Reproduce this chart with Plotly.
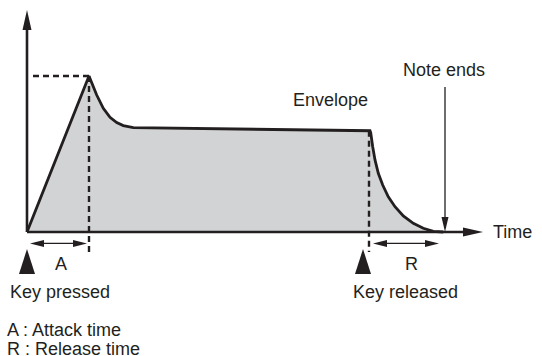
import plotly.graph_objects as go

# ADSR-style envelope: time in arbitrary units, level in % of peak
attack_t = [0, 6.2]
attack_level = [0, 100]
decay_t = [6.2, 6.97, 7.63, 8.3, 8.97, 9.63, 10.3, 10.63]
decay_level = [100, 87.8, 79.3, 73.5, 70.1, 68.2, 67.1, 66.9]
sustain_t = [10.63, 34.3]
sustain_level = [66.9, 64.9]
release_t = [34.3, 34.37, 34.57, 34.8, 35.13, 35.57, 36.13, 36.8, 37.63, 38.63, 39.63, 40.63, 41.63]
release_level = [64.9, 63.7, 54.7, 46.2, 37.6, 30.1, 22.6, 16.2, 10.3, 5.6, 2.4, 0.4, 0]

key_marker_t = [0, 33.6]
key_labels = ["Key pressed", "Key released"]
attack_span = [0.3, 6.0]
release_span = [34.6, 41.2]
note_end_t = 41.8
time_axis_end = 45.6
level_axis_end = 142.3

INK = "#231f20"
FILL = "#d1d3d4"
FONT = dict(family="Liberation Sans, Arial, sans-serif", size=18, color=INK)
W, H = 542, 356
X_RANGE = [-2.7, 51.5]
Y_RANGE = [-79.49, 148.72]
PX_T = W / (X_RANGE[1] - X_RANGE[0])
PX_L = H / (Y_RANGE[1] - Y_RANGE[0])

env_t = attack_t + decay_t[1:] + sustain_t[1:] + release_t[1:]
env_level = attack_level + decay_level[1:] + sustain_level[1:] + release_level[1:]

fig = go.Figure()

fig.add_trace(go.Scatter(x=env_t, y=env_level, mode="lines", fill="tozeroy",
                         fillcolor=FILL, line=dict(color=INK, width=2.8)))

# dashed guides
dash = dict(color=INK, width=2.4, dash="6px,4px")
guide_bottom = -20 / PX_L
fig.add_trace(go.Scatter(x=[6 / PX_T, attack_t[1]], y=[attack_level[1]] * 2,
                         mode="lines", line=dash))
fig.add_trace(go.Scatter(x=[attack_t[1]] * 2, y=[attack_level[1], guide_bottom],
                         mode="lines", line=dash))
fig.add_trace(go.Scatter(x=[sustain_t[1] - 0.1] * 2, y=[sustain_level[1], guide_bottom],
                         mode="lines", line=dash))

shapes = []


def head(t, lv, direction, length, width):
    # arrow head as a pixel-sized path anchored at the tip
    hw = width / 2
    pts = {
        "up": [(0, 0), (-hw, -length), (hw, -length)],
        "down": [(0, 0), (-hw, length), (hw, length)],
        "right": [(0, 0), (-length, hw), (-length, -hw)],
        "left": [(0, 0), (length, hw), (length, -hw)],
    }[direction]
    path = "M" + " L".join(f"{x},{y}" for x, y in pts) + " Z"
    shapes.append(dict(type="path", xref="x", yref="y", xsizemode="pixel",
                       ysizemode="pixel", xanchor=t, yanchor=lv, path=path,
                       fillcolor=INK, line=dict(width=0), layer="above"))


# axes
axis = dict(color=INK, width=2.6)
fig.add_trace(go.Scatter(x=[0, time_axis_end - 10 / PX_T], y=[0, 0], mode="lines", line=axis))
fig.add_trace(go.Scatter(x=[0, 0], y=[0, level_axis_end - 10 / PX_L], mode="lines", line=axis))
head(time_axis_end, 0, "right", 20, 9)
head(0, level_axis_end, "up", 20, 9)

# span arrows for attack and release
thin = dict(color=INK, width=1.3)
span_y = -7.3
for a, b in (attack_span, release_span):
    fig.add_trace(go.Scatter(x=[a + 5 / PX_T, b - 5 / PX_T], y=[span_y] * 2, mode="lines", line=thin))
    head(a, span_y, "left", 14, 7)
    head(b, span_y, "right", 14, 7)

# note ends arrow
fig.add_trace(go.Scatter(x=[note_end_t] * 2, y=[93, 6 / PX_L], mode="lines", line=thin))
head(note_end_t, 0, "down", 15, 7)

# key markers
for t in key_marker_t:
    head(t, -17 / PX_L, "up", 25, 16)

ann = [
    dict(x=46.4, y=0, text="Time", xanchor="left"),
    dict(x=41.7, y=103.8, text="Note ends"),
    dict(x=30.3, y=84.6, text="Envelope"),
    dict(x=3.4, y=-20.5, text="A"),
    dict(x=38.4, y=-20.5, text="R"),
    dict(x=-1.9, y=-38.5, text=key_labels[0], xanchor="left"),
    dict(x=37.8, y=-38.5, text=key_labels[1]),
    dict(x=-2.2, y=-62.5, text="A : Attack time", xanchor="left"),
    dict(x=-2.2, y=-75.0, text="R : Release time", xanchor="left"),
]
for a in ann:
    fig.add_annotation(showarrow=False, yanchor="middle", font=FONT, **a)

fig.update_layout(
    width=W, height=H,
    margin=dict(l=0, r=0, t=0, b=0),
    plot_bgcolor="white", paper_bgcolor="white",
    showlegend=False,
    shapes=shapes,
    xaxis=dict(range=X_RANGE, visible=False, fixedrange=True),
    yaxis=dict(range=Y_RANGE, visible=False, fixedrange=True),
)

fig.write_html("out.html", config=dict(displayModeBar=False),
               post_script="document.body.style.margin='0';document.body.style.overflow='hidden';")
